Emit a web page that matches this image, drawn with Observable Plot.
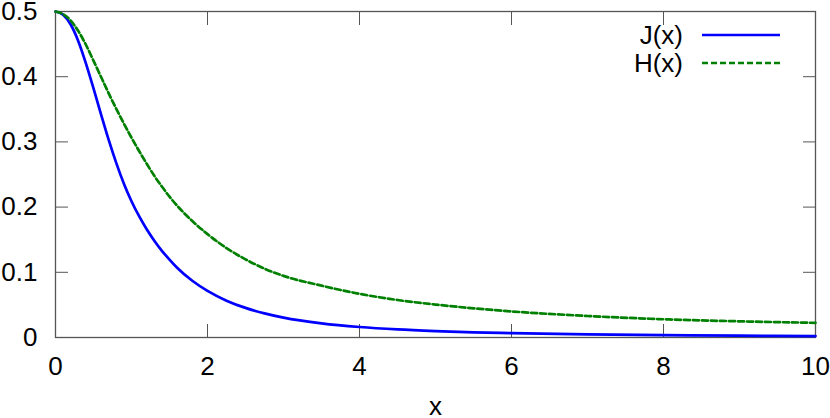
<!DOCTYPE html>
<html><head><meta charset="utf-8">
<script src="https://cdn.jsdelivr.net/npm/d3@7"></script>
<script src="https://cdn.jsdelivr.net/npm/@observablehq/plot@0.6"></script>
<style>body{margin:0;background:#fff}</style>
</head><body><div id="chart"></div>
<script>
const xs = [0, 0.1, 0.2, 0.3, 0.4, 0.5, 0.6, 0.7, 0.8, 0.9, 1.0, 1.1, 1.2, 1.3, 1.4, 1.5, 1.6, 1.8, 2.0, 2.25, 2.5, 2.75, 3.0, 3.5, 4.0, 4.5, 5.0, 5.5, 6.0, 7.0, 8.0, 9.0, 10.0];
const J  = [0.5, 0.495, 0.480, 0.4545, 0.4205, 0.382, 0.342, 0.303, 0.2675, 0.236, 0.209, 0.186, 0.166, 0.1485, 0.133, 0.1195, 0.107, 0.087, 0.0715, 0.0565, 0.0454, 0.037, 0.0305, 0.0217, 0.0161, 0.0124, 0.0099, 0.0080, 0.0067, 0.0048, 0.0036, 0.0028, 0.0022];
const Hv = [0.5, 0.496, 0.486, 0.470, 0.449, 0.4245, 0.3995, 0.3745, 0.3507, 0.328, 0.3065, 0.286, 0.2665, 0.248, 0.2315, 0.216, 0.2022, 0.1786, 0.1586, 0.1371, 0.1199, 0.1056, 0.0945, 0.0795, 0.067, 0.0575, 0.0505, 0.0448, 0.040, 0.033, 0.028, 0.0248, 0.0225];
const seriesNames = ["J(x)", "H(x)"];
const seriesColors = ["#0000ff", "#008000"];
const seriesDash = [null, "6,3"];
const xTicks = [0, 2, 4, 6, 8, 10];
const yTicks = [0, 0.1, 0.2, 0.3, 0.4, 0.5];
const xLabel = "x";

const series = [J, Hv].map(vals => xs.map((x, i) => ({x, v: vals[i]})));

const W = 830, HT = 418, mL = 55, mR = 15, mT = 11, mB = 81;
const frameColor = "#555";

const chart = Plot.plot({
  width: W, height: HT,
  marginLeft: mL, marginRight: mR, marginTop: mT, marginBottom: mB,
  style: {fontFamily: "'Liberation Sans', Arial, sans-serif", fontSize: "26px", color: "#000", background: "#fff"},
  x: {domain: [0, 10]},
  y: {domain: [0, 0.5]},
  marks: [
    Plot.frame({stroke: frameColor, strokeWidth: 1.3}),
    Plot.axisX({ticks: xTicks, tickSize: 0, tickPadding: 19, label: xLabel, labelAnchor: "center", labelOffset: 77, labelArrow: "none"}),
    Plot.axisX({ticks: xTicks, tickSize: -13, text: null, label: null, stroke: frameColor}),
    Plot.axisX({anchor: "top", ticks: xTicks, tickSize: -13, text: null, label: null, stroke: frameColor}),
    Plot.axisY({ticks: yTicks, tickSize: 0, tickPadding: 18, tickFormat: d => d === 0 ? "0" : d.toFixed(1), label: null}),
    Plot.axisY({ticks: yTicks, tickSize: -13, text: null, label: null, stroke: frameColor}),
    Plot.axisY({anchor: "right", ticks: yTicks, tickSize: -13, text: null, label: null, stroke: frameColor}),
    ...series.map((d, i) => Plot.line(d, {x: "x", y: "v", stroke: seriesColors[i], strokeWidth: 2.7, strokeDasharray: seriesDash[i], curve: "monotone-x"}))
  ]
});
document.getElementById("chart").appendChild(chart);

// legend inside the plot, top right
const svg = d3.select(chart);
const lg = svg.append("g").attr("font-family", "'Liberation Sans', Arial, sans-serif").attr("font-size", 26);
seriesNames.forEach((name, i) => {
  const yy = mT + 24 + i * 28;
  lg.append("text").attr("x", W - mR - 132).attr("y", yy).attr("dy", "0.35em").attr("text-anchor", "end").attr("fill", "#000").text(name);
  lg.append("line").attr("x1", W - mR - 113).attr("x2", W - mR - 35).attr("y1", yy).attr("y2", yy)
    .attr("stroke", seriesColors[i]).attr("stroke-width", 2.7).attr("stroke-dasharray", seriesDash[i]);
});
</script>
</body></html>
